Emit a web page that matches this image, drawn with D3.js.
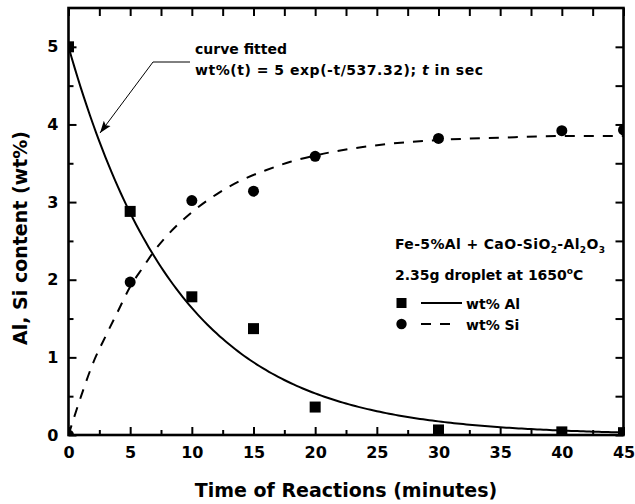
<!DOCTYPE html>
<html>
<head>
<meta charset="utf-8">
<script src="https://cdn.jsdelivr.net/npm/d3@7"></script>
<style>
  html, body { margin: 0; padding: 0; background: #fff; }
  svg { display: block; font-family: "DejaVu Sans", Verdana, sans-serif; font-weight: bold; }
</style>
</head>
<body>
<svg id="chart" width="635" height="504"></svg>
<script>
// Measured reaction times (minutes) and compositions (wt%)
const timeAl = [0, 5, 10, 15, 20, 30, 40, 45];
const wtAl   = [5.0, 2.88, 1.78, 1.37, 0.36, 0.065, 0.04, 0.03];
const timeSi = [0, 5, 10, 15, 20, 30, 40, 45];
const wtSi   = [0.0, 1.97, 3.02, 3.14, 3.59, 3.82, 3.92, 3.93];

// Dashed guide through the Si data
const siCurveT = [0, 1, 2, 3, 4, 5, 6, 7, 8, 10, 12, 14, 16, 18, 20, 23, 26, 30, 35, 40, 45];
const siCurveV = [0, 0.49, 0.93, 1.27, 1.59, 1.91, 2.15, 2.38, 2.57, 2.87, 3.10, 3.28, 3.41, 3.52, 3.60, 3.69, 3.75, 3.80, 3.83, 3.85, 3.85];

// Fitted Al decay: wt%(t) = 5 exp(-t/537.32), t in seconds
const fitA0 = 5;
const fitTau = 537.32;

const xTicks = [0, 5, 10, 15, 20, 25, 30, 35, 40, 45];
const yTicks = [0, 1, 2, 3, 4, 5];

const svg = d3.select("#chart");
const pL = 68.5, pR = 623.5, pT = 8, pB = 435;

const x = d3.scaleLinear().domain([0, 45]).range([pL, pR]);
const y = d3.scaleLinear().domain([0, 5.5]).range([pB, pT]);

const defs = svg.append("defs");
defs.append("clipPath").attr("id", "plotClip")
  .append("rect").attr("x", pL).attr("y", pT)
  .attr("width", pR - pL).attr("height", pB - pT);

const plot = svg.append("g").attr("clip-path", "url(#plotClip)");

// Fitted Al curve
const fitT = d3.range(0, 45.001, 0.25);
const line = d3.line().x(d => x(d[0])).y(d => y(d[1]));
plot.append("path")
  .datum(fitT.map(t => [t, fitA0 * Math.exp(-t * 60 / fitTau)]))
  .attr("d", line).attr("fill", "none").attr("stroke", "#000").attr("stroke-width", 2);

// Si guide curve
const smooth = d3.line().x(d => x(d[0])).y(d => y(d[1])).curve(d3.curveMonotoneX);
plot.append("path")
  .datum(siCurveT.map((t, i) => [t, siCurveV[i]]))
  .attr("d", smooth).attr("fill", "none")
  .attr("stroke", "#000").attr("stroke-width", 2).attr("stroke-dasharray", "10,9");

// Al markers (squares)
const sq = 11;
plot.selectAll("rect.al").data(timeAl.map((t, i) => [t, wtAl[i]])).join("rect")
  .attr("class", "al")
  .attr("x", d => x(d[0]) - sq / 2).attr("y", d => y(d[1]) - sq / 2)
  .attr("width", sq).attr("height", sq).attr("fill", "#000");

// Si markers (circles)
plot.selectAll("circle.si").data(timeSi.map((t, i) => [t, wtSi[i]])).join("circle")
  .attr("class", "si")
  .attr("cx", d => x(d[0])).attr("cy", d => y(d[1])).attr("r", 5.5).attr("fill", "#000");

// Axes: bottom/left with labels, top/right ticks only
const minorX = d3.range(2.5, 45, 5);
const minorY = d3.range(0.5, 5.5, 1);
const tickStyle = g => g.attr("stroke", "#000").attr("stroke-width", 2);

const gx = svg.append("g").attr("transform", `translate(0,${pB})`)
  .call(d3.axisBottom(x).tickValues(xTicks).tickSize(-8).tickPadding(12).tickFormat(d3.format("d")));
gx.select(".domain").remove();
gx.selectAll(".tick line").call(tickStyle);
gx.selectAll(".tick text").attr("font-size", 16).attr("font-family", "DejaVu Sans").attr("font-weight", "bold").attr("fill", "#000");
svg.append("g").attr("transform", `translate(0,${pB})`)
  .call(d3.axisBottom(x).tickValues(minorX).tickSize(-5).tickFormat(""))
  .call(g => g.select(".domain").remove())
  .selectAll(".tick line").call(tickStyle);

const gy = svg.append("g").attr("transform", `translate(${pL},0)`)
  .call(d3.axisLeft(y).tickValues(yTicks).tickSize(-8).tickPadding(10).tickFormat(d3.format("d")));
gy.select(".domain").remove();
gy.selectAll(".tick line").call(tickStyle);
gy.selectAll(".tick text").attr("font-size", 16).attr("font-family", "DejaVu Sans").attr("font-weight", "bold").attr("fill", "#000");
svg.append("g").attr("transform", `translate(${pL},0)`)
  .call(d3.axisLeft(y).tickValues(minorY).tickSize(-5).tickFormat(""))
  .call(g => g.select(".domain").remove())
  .selectAll(".tick line").call(tickStyle);

svg.append("g").attr("transform", `translate(0,${pT})`)
  .call(d3.axisTop(x).tickValues(d3.range(0, 45.01, 2.5)).tickSize(-8).tickFormat(""))
  .call(g => g.select(".domain").remove())
  .selectAll(".tick line").call(tickStyle);
svg.append("g").attr("transform", `translate(${pR},0)`)
  .call(d3.axisRight(y).tickValues(d3.range(0, 5.01, 0.5)).tickSize(-8).tickFormat(""))
  .call(g => g.select(".domain").remove())
  .selectAll(".tick line").call(tickStyle);

// Frame
svg.append("rect").attr("x", pL).attr("y", pT)
  .attr("width", pR - pL).attr("height", pB - pT)
  .attr("fill", "none").attr("stroke", "#000").attr("stroke-width", 2.6);

// Axis titles
svg.append("text").attr("x", (pL + pR) / 2).attr("y", 497)
  .attr("text-anchor", "middle").attr("font-size", 19).text("Time of Reactions (minutes)");
svg.append("text").attr("transform", `translate(27,238) rotate(-90)`)
  .attr("text-anchor", "middle").attr("font-size", 19).text("Al, Si content (wt%)");

// Fit annotation with leader arrow
svg.append("text").attr("font-size", 14).attr("x", 195).attr("y", 54).text("curve fitted");
const l2 = svg.append("text").attr("font-size", 14).attr("x", 195).attr("y", 75)
  .attr("textLength", 288).attr("lengthAdjust", "spacing");
l2.append("tspan").text("wt%(t) = 5 exp(-t/537.32); ");
l2.append("tspan").attr("font-style", "italic").text("t");
l2.append("tspan").text(" in sec");

defs.append("marker").attr("id", "arrow")
  .attr("viewBox", "0 0 10 10").attr("refX", 10).attr("refY", 5)
  .attr("markerWidth", 12).attr("markerHeight", 12).attr("markerUnits", "userSpaceOnUse")
  .attr("orient", "auto")
  .append("path").attr("d", "M0,1.5 L10,5 L0,8.5 L2,5 Z").attr("fill", "#000");
svg.append("polyline")
  .attr("points", "190,62 153,62 100,133")
  .attr("fill", "none").attr("stroke", "#000").attr("stroke-width", 1)
  .attr("marker-end", "url(#arrow)");

// Legend block
const lg = svg.append("g").attr("font-size", 14);
const t1 = lg.append("text").attr("x", 395).attr("y", 249)
  .attr("textLength", 210).attr("lengthAdjust", "spacing");
t1.append("tspan").text("Fe-5%Al + CaO-SiO");
t1.append("tspan").attr("font-size", 9).attr("dy", 4).text("2");
t1.append("tspan").attr("dy", -4).text("-Al");
t1.append("tspan").attr("font-size", 9).attr("dy", 4).text("2");
t1.append("tspan").attr("dy", -4).text("O");
t1.append("tspan").attr("font-size", 9).attr("dy", 4).text("3");

const t2 = lg.append("text").attr("x", 395).attr("y", 280);
t2.append("tspan").text("2.35g droplet at 1650");
t2.append("tspan").attr("font-size", 9).attr("dy", -6).text("o");
t2.append("tspan").attr("dy", 6).text("C");

lg.append("rect").attr("x", 396.5).attr("y", 298).attr("width", 10).attr("height", 10).attr("fill", "#000");
lg.append("line").attr("x1", 421).attr("x2", 462).attr("y1", 303).attr("y2", 303)
  .attr("stroke", "#000").attr("stroke-width", 2);
lg.append("text").attr("x", 466).attr("y", 309).text("wt% Al");

lg.append("circle").attr("cx", 401.5).attr("cy", 324).attr("r", 5.2).attr("fill", "#000");
lg.append("line").attr("x1", 421).attr("x2", 451).attr("y1", 324).attr("y2", 324)
  .attr("stroke", "#000").attr("stroke-width", 2).attr("stroke-dasharray", "10,9");
lg.append("text").attr("x", 466).attr("y", 330).text("wt% Si");
</script>
</body>
</html>
